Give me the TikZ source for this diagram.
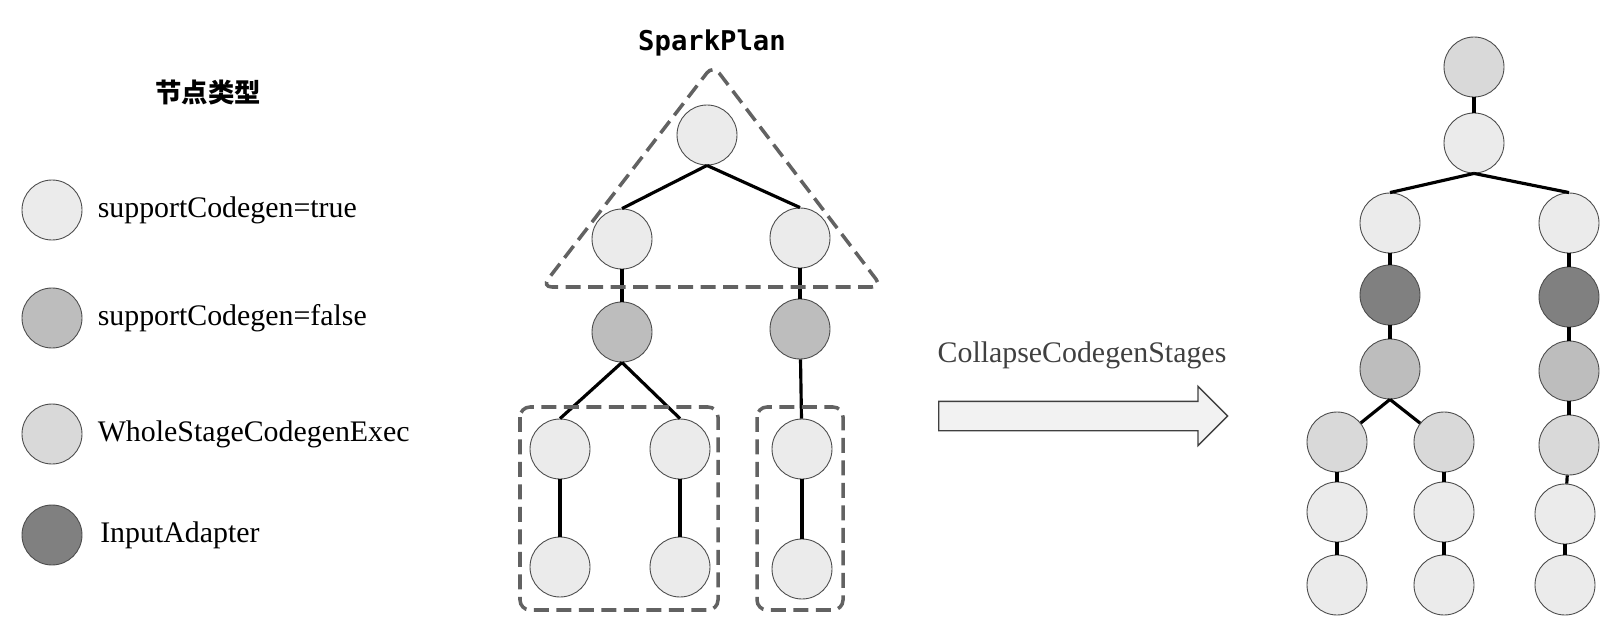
\documentclass[tikz,border=0pt]{standalone}
\usepackage{fontspec}
\setmainfont{Liberation Serif}
\setmonofont{DejaVu Sans Mono}
\newfontfamily\cjk{Noto Sans CJK SC}
\usepackage{xcolor}
\usepackage{tikz}
\usetikzlibrary{positioning, shapes, arrows}

\definecolor{cgtrue}{HTML}{EBEBEB}
\definecolor{cgfalse}{HTML}{BDBDBD}
\definecolor{cgwhole}{HTML}{D9D9D9}
\definecolor{cgadapter}{HTML}{808080}
\definecolor{groupgray}{HTML}{626262}

\begin{document}
\begin{tikzpicture}[x=0.02cm, y=-0.02cm,
  plan/.style={draw=black!70, circle, minimum size=1.2cm, inner sep=0pt, line width=0.5pt},
  cgtrue/.style={plan, fill=cgtrue},
  cgfalse/.style={plan, fill=cgfalse},
  whole/.style={plan, fill=cgwhole},
  adapter/.style={plan, fill=cgadapter},
  link/.style={line width=1.8pt, black},
  group/.style={draw=groupgray, line width=2pt, dash pattern=on 0.3cm off 0.15cm, rounded corners=0.2cm},
  legtext/.style={font=\fontsize{17}{20}\selectfont, inner sep=0.2cm}]
\useasboundingbox (0,0) rectangle (1620,632);

% legend
\node[font=\cjk\bfseries\fontsize{15}{18}\selectfont] (title) at (208,92) {节点类型};
\node[cgtrue] (legTrue) at (52,210) {};
\node[cgfalse] (legFalse) at (52,318) {};
\node[whole] (legWhole) at (52,434) {};
\node[adapter] (legInput) at (52,535) {};
\node[legtext, right=0.1cm of legTrue] {supportCodegen=true};
\node[legtext, right=0.1cm of legFalse] {supportCodegen=false};
\node[legtext, right=0.1cm of legWhole] {WholeStageCodegenExec};
\node[legtext, right=0.15cm of legInput] {InputAdapter};

% SparkPlan tree
\node[font=\ttfamily\bfseries\fontsize{15.5}{18}\selectfont] (planTitle) at (712,43) {SparkPlan};
\node[cgtrue] (root) at (707,135) {};
\node[cgtrue] (left) at (622,239) {};
\node[cgtrue] (right) at (800,238) {};
\node[cgfalse] (leftSort) at (622,332) {};
\node[cgfalse] (rightSort) at (800,329) {};
\node[cgtrue] (leftA) at (560,449) {};
\node[cgtrue] (leftB) at (680,449) {};
\node[cgtrue] (rightA) at (802,449) {};
\node[cgtrue] (leftA2) at (560,567) {};
\node[cgtrue] (leftB2) at (680,567) {};
\node[cgtrue] (rightA2) at (802,569) {};

\draw[link] (root.south) -- (left.north);
\draw[link] (root.south) -- (right.north);
\draw[link] (left) -- (leftSort);
\draw[link] (right) -- (rightSort);
\draw[link] (leftSort.south) -- (leftA.north);
\draw[link] (leftSort.south) -- (leftB.north);
\draw[link] (rightSort) -- (rightA);
\draw[link] (leftA) -- (leftA2);
\draw[link] (leftB) -- (leftB2);
\draw[link] (rightA) -- (rightA2);

\draw[group] (713,65) -- (882,287) -- (542,287) -- cycle;
\draw[group] (520,407) rectangle (718,610);
\draw[group] (757,407) rectangle (843,610);

% rule
\node[font=\fontsize{17}{20}\selectfont, text=black!75] (ruleName) at (1082,355) {CollapseCodegenStages};
\node[single arrow, draw=black!75, fill=black!5, line width=0.8pt, inner xsep=0pt, inner ysep=0.28cm,
  minimum height=5.78cm, single arrow head extend=0.3cm, anchor=tail] (collapse) at (938,416) {};

% result tree
\node[whole] (outTop) at (1474,67) {};
\node[cgtrue] (outRoot) at (1474,143) {};
\node[cgtrue] (outL) at (1390,223) {};
\node[cgtrue] (outR) at (1569,223) {};
\node[adapter] (outLin) at (1390,295) {};
\node[adapter] (outRin) at (1569,297) {};
\node[cgfalse] (outLsort) at (1390,369) {};
\node[cgfalse] (outRsort) at (1569,371) {};
\node[whole] (outA) at (1337,442) {};
\node[whole] (outB) at (1444,442) {};
\node[whole] (outC) at (1569,445) {};
\node[cgtrue] (outA2) at (1337,512) {};
\node[cgtrue] (outB2) at (1444,512) {};
\node[cgtrue] (outC2) at (1565,514) {};
\node[cgtrue] (outA3) at (1337,585) {};
\node[cgtrue] (outB3) at (1444,585) {};
\node[cgtrue] (outC3) at (1565,585) {};

\draw[link] (outTop) -- (outRoot);
\draw[link] (outRoot.south) -- (outL.north);
\draw[link] (outRoot.south) -- (outR.north);
\draw[link] (outL) -- (outLin);
\draw[link] (outR) -- (outRin);
\draw[link] (outLin) -- (outLsort);
\draw[link] (outRin) -- (outRsort);
\draw[link] (outLsort.south) -- (outA);
\draw[link] (outLsort.south) -- (outB);
\draw[link] (outRsort) -- (outC);
\draw[link] (outA) -- (outA2);
\draw[link] (outB) -- (outB2);
\draw[link] (outC) -- (outC2);
\draw[link] (outA2) -- (outA3);
\draw[link] (outB2) -- (outB3);
\draw[link] (outC2) -- (outC3);
\end{tikzpicture}
\end{document}
